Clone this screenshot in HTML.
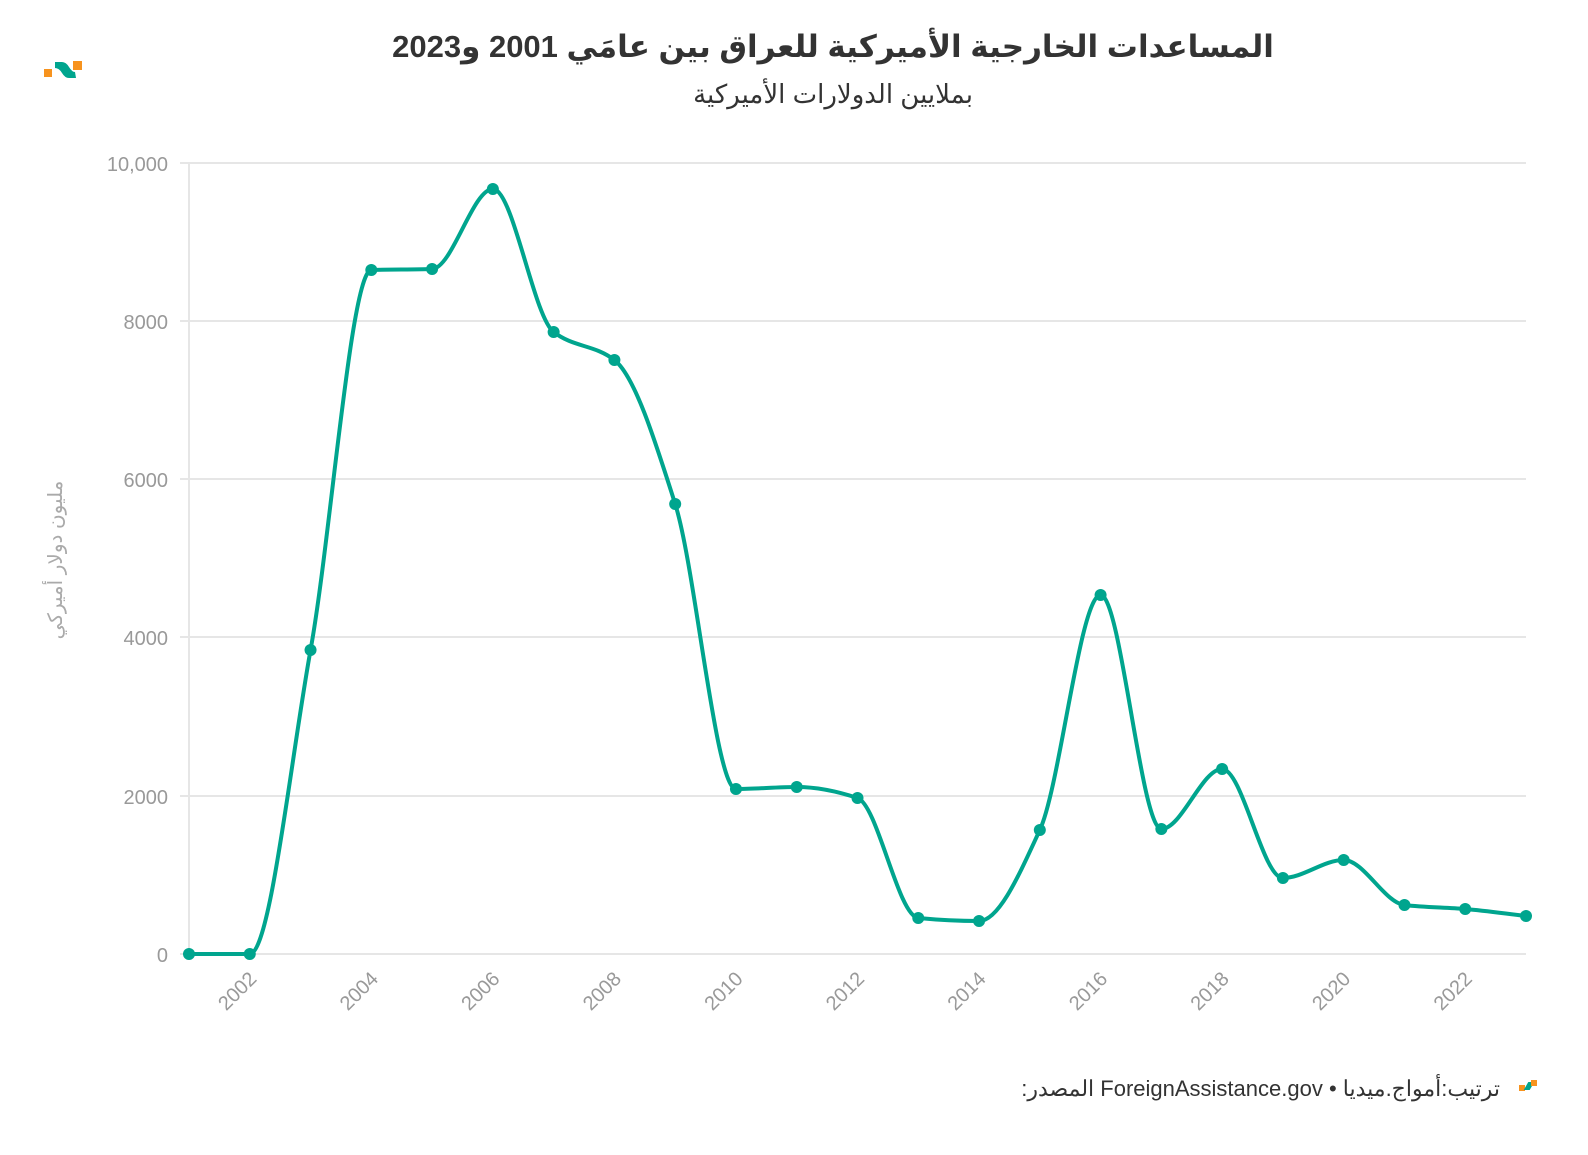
<!DOCTYPE html>
<html><head><meta charset="utf-8">
<style>
body{margin:0;background:#fff;width:1588px;height:1150px;overflow:hidden;font-family:"Liberation Sans","Noto Sans CJK SC",sans-serif;}
</style></head><body>
<svg id="s" width="1588" height="1150" xmlns="http://www.w3.org/2000/svg" font-family="Liberation Sans, DejaVu Sans, sans-serif">
<rect width="1588" height="1150" fill="#fff"/>
<!-- logo -->
<rect x="44" y="69" width="8" height="8" fill="#f7931e"/>
<path d="M55 62 L62 62 Q66 62 69 67 Q72 72 75 72 L76 78 L69 78 Q65 78 62 73 Q59 68 55 68 Z" fill="#00a58e"/>
<rect x="73" y="61" width="9" height="9" fill="#f7931e"/>
<text x="833" y="57" text-anchor="middle" font-size="31" font-weight="bold" fill="#333" direction="rtl">المساعدات الخارجية الأميركية للعراق بين عامَي 2001 و2023</text>
<text x="833" y="103" text-anchor="middle" font-size="26" fill="#333" direction="rtl">بملايين الدولارات الأميركية</text>
<g stroke="#e6e6e6" stroke-width="2">
<line x1="180" x2="1526" y1="163" y2="163"/>
<line x1="180" x2="1526" y1="321" y2="321"/>
<line x1="180" x2="1526" y1="479" y2="479"/>
<line x1="180" x2="1526" y1="637" y2="637"/>
<line x1="180" x2="1526" y1="796" y2="796"/>
<line x1="180" x2="1526" y1="954" y2="954"/>
<line x1="189" x2="189" y1="163" y2="954"/>
</g>
<g font-size="20" fill="#999" text-anchor="end">
<text x="168" y="171">10,000</text>
<text x="168" y="329">8000</text>
<text x="168" y="487">6000</text>
<text x="168" y="645">4000</text>
<text x="168" y="804">2000</text>
<text x="168" y="962">0</text>
</g>
<text transform="translate(62,560) rotate(-90)" text-anchor="middle" font-size="20" fill="#aaa" direction="rtl">مليون دولار أميركي</text>
<g id="xt" font-size="20" fill="#999" text-anchor="end"></g>
<path id="ln" fill="none" stroke="#00a58e" stroke-width="4"/>
<g id="pts" fill="#00a58e"></g>
</svg>
<div style="position:absolute;right:88px;top:1076px;font-size:22px;color:#333;direction:rtl;white-space:nowrap;">ترتيب:أمواج.ميديا • ForeignAssistance.gov المصدر:</div>
<div style="position:absolute;left:1519px;top:1085px;width:6px;height:6px;background:#f7931e"></div>
<div style="position:absolute;left:1526px;top:1082px;width:6px;height:8px;background:#00a58e;transform:skewX(-30deg)"></div>
<div style="position:absolute;left:1531px;top:1080px;width:6px;height:6px;background:#f7931e"></div>
<script>
var ys=[954,954,650,270,269,189,332,360,504,789,787,798,918,921,830,595,829,769,878,860,905,909,916];
var x0=189,dx=(1526-189)/22,xs=ys.map((_,i)=>x0+i*dx);
var n=ys.length,s=[],m=[];
for(var i=0;i<n-1;i++)s.push((ys[i+1]-ys[i])/dx);
m[0]=s[0];m[n-1]=s[n-2];
for(i=1;i<n-1;i++){if(s[i-1]*s[i]<=0)m[i]=0;else{var a=s[i-1],b=s[i];m[i]=Math.sign(a)*Math.min(Math.abs(a),Math.abs(b),0.5*Math.abs(a+b));m[i]=3*a*b/(2*b+a)*0+(2*a*b/(a+b));}}
var d="M"+xs[0]+","+ys[0];
for(i=0;i<n-1;i++){var h=dx/3;d+=" C"+(xs[i]+h)+","+(ys[i]+m[i]*h)+" "+(xs[i+1]-h)+","+(ys[i+1]-m[i+1]*h)+" "+xs[i+1]+","+ys[i+1];}
document.getElementById("ln").setAttribute("d",d);
var ns="http://www.w3.org/2000/svg",g=document.getElementById("pts"),xt=document.getElementById("xt");
for(i=0;i<n;i++){var c=document.createElementNS(ns,"circle");c.setAttribute("cx",xs[i]);c.setAttribute("cy",ys[i]);c.setAttribute("r",6);g.appendChild(c);
if(i%2==1){var t=document.createElementNS(ns,"text");var X=xs[i]+8,Y=980;t.setAttribute("transform","translate("+X+","+Y+") rotate(-45)");t.textContent=2001+i;xt.appendChild(t);}}
</script>
</body></html>
